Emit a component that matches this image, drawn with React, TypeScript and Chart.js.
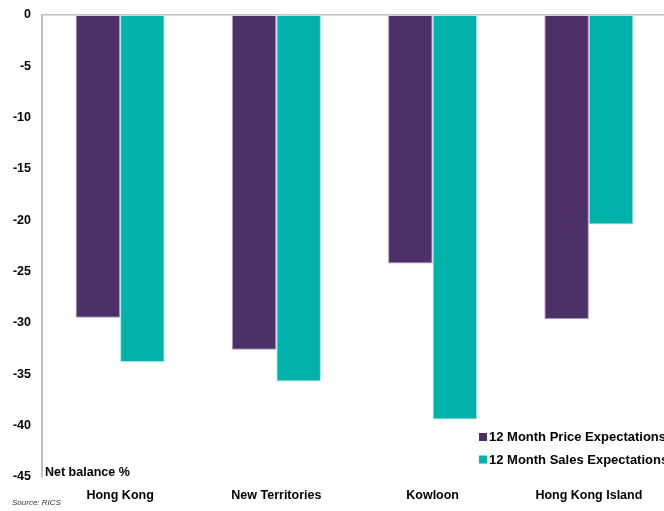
import React, { useEffect, useRef } from "react";
import { Chart, registerables } from "chart.js";

Chart.register(...registerables);

const categories = ["Hong Kong", "New Territories", "Kowloon", "Hong Kong Island"];
const priceExpectations = [-29.5, -32.6, -24.2, -29.6];
const salesExpectations = [-33.8, -35.7, -39.4, -20.4];
const seriesNames = ["12 Month Price Expectations", "12 Month Sales Expectations"];
const yAxisNote = "Net balance %";
const sourceNote = "Source: RICS";

const PURPLE = "#4D3068";
const TEAL = "#00B2A9";
const FONT = "'Liberation Sans', Arial, sans-serif";

const extrasPlugin = {
  id: "extras",
  afterDraw(chart: any) {
    const ctx = chart.ctx as CanvasRenderingContext2D;
    const area = chart.chartArea;
    ctx.save();
    const colors = [PURPLE, TEAL];
    ctx.font = `bold 13px ${FONT}`;
    ctx.textBaseline = "middle";
    ctx.textAlign = "left";
    seriesNames.forEach((name, i) => {
      const cy = 437 + i * 22.5;
      ctx.fillStyle = colors[i];
      ctx.fillRect(479, cy - 4, 8, 8);
      ctx.fillStyle = "#000";
      ctx.fillText(name, 489, cy + 0.5);
    });
    ctx.font = `bold 12.5px ${FONT}`;
    ctx.fillText(yAxisNote, area.left + 3, 472.5);
    ctx.font = `italic 8px ${FONT}`;
    ctx.fillStyle = "#333";
    ctx.fillText(sourceNote, 12, 503);
    ctx.restore();
  },
};

export default function App() {
  const ref = useRef<HTMLCanvasElement>(null);
  useEffect(() => {
    if (!ref.current) return;
    const chart = new Chart(ref.current, {
      type: "bar",
      data: {
        labels: categories,
        datasets: [
          {
            label: seriesNames[0],
            data: priceExpectations,
            backgroundColor: PURPLE,
            borderColor: "rgba(160,140,190,0.9)",
            borderWidth: 1,
          },
          {
            label: seriesNames[1],
            data: salesExpectations,
            backgroundColor: TEAL,
            borderColor: "rgba(150,225,220,0.9)",
            borderWidth: 1,
          },
        ],
      },
      plugins: [extrasPlugin],
      options: {
        responsive: false,
        animation: false,
        devicePixelRatio: 1,
        layout: { padding: { top: 15, left: 0, right: 0, bottom: 0 } },
        plugins: {
          legend: { display: false },
          tooltip: { enabled: false },
        },
        datasets: {
          bar: { barPercentage: 1, categoryPercentage: 0.57 },
        },
        scales: {
          x: {
            grid: { display: false, drawTicks: false },
            border: { display: false },
            ticks: {
              color: "#000",
              font: { family: FONT, size: 12.5, weight: "bold" },
              padding: 11,
              maxRotation: 0,
              autoSkip: false,
            },
            afterFit: (scale: any) => {
              scale.height = 34;
              scale.paddingLeft = 0;
              scale.paddingRight = 0;
            },
          },
          y: {
            min: -45,
            max: 0,
            ticks: {
              stepSize: 5,
              color: "#000",
              font: { family: FONT, size: 12.5, weight: "bold" },
              padding: 11,
            },
            grid: {
              drawTicks: false,
              color: (c: any) => (c.tick && c.tick.value === 0 ? "#BFBFBF" : "rgba(0,0,0,0)"),
              lineWidth: 1.5,
            },
            border: { display: true, color: "#BFBFBF", width: 2 },
            afterFit: (scale: any) => {
              scale.width = 42;
              scale.paddingTop = 0;
              scale.paddingBottom = 0;
            },
          },
        },
      },
    });
    return () => chart.destroy();
  }, []);
  return (
    <div
      style={{
        position: "fixed",
        left: 0,
        top: 0,
        width: 664,
        height: 511,
        overflow: "hidden",
        background: "#fff",
      }}
    >
      <canvas ref={ref} width={667} height={511} style={{ display: "block", width: 667, height: 511 }} />
    </div>
  );
}
